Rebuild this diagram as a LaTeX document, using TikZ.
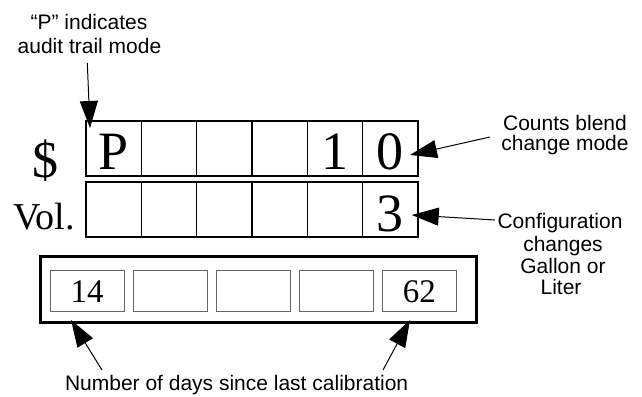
\documentclass[tikz,border=0pt]{standalone}
\usepackage{fontspec}
\setmainfont{Liberation Serif}
\newfontfamily\labelfont{Liberation Sans}
\usetikzlibrary{arrows.meta}
\begin{document}
\begin{tikzpicture}[x=1pt,y=-1pt,
  cellbox/.style={draw, line width=1.5pt, minimum width=55.33pt, minimum height=55pt, inner sep=0pt},
  daybox/.style={draw=black!60, line width=0.8pt, minimum width=74pt, minimum height=40.3pt, inner sep=0pt},
  framebox/.style={draw, line width=3pt, minimum width=436pt, minimum height=66pt, inner sep=0pt},
  bigdigit/.style={anchor=base, inner sep=0pt, font=\fontsize{54}{60}\selectfont},
  daydigit/.style={anchor=base, inner sep=0pt, font=\fontsize{33}{38}\selectfont},
  rowlabel/.style={anchor=base, inner sep=0pt},
  lbl/.style={anchor=base, inner sep=0pt, font=\labelfont\fontsize{21}{24}\selectfont},
  callout/.style={line width=1pt, -{Triangle[length=27pt,width=18pt]}},
]
\useasboundingbox (0,0) rectangle (642,396);

% row labels
\node[rowlabel, font=\fontsize{52}{58}\selectfont] (dollar) at (45,177) {\$};
\node[rowlabel, font=\fontsize{38}{44}\selectfont] (vol) at (44,229) {Vol.};

% top two rows of cells
\foreach \i/\x in {1/113.667,2/169.0,3/224.333,4/279.667,5/335.0,6/390.333}{
  \node[cellbox] (t\i) at (\x,148.5) {};
  \node[cellbox] (v\i) at (\x,209.35) {};
}
\node[bigdigit] (dP) at (113.667,169.3) {P};
\node[bigdigit] (d1) at (335.0,169.3) {1};
\node[bigdigit] (d0) at (390.333,169.3) {0};
\node[bigdigit] (d3) at (390.333,231.2) {3};

% bottom frame with day cells
\node[framebox] (frame) at (258,289) {};
\foreach \i/\x in {1/87.0,2/170.1,3/253.2,4/336.3,5/419.4}{
  \node[daybox] (b\i) at (\x,290.85) {};
}
\node[daydigit] (n14) at (87.0,302) {14};
\node[daydigit] (n62) at (419.4,302) {62};

% callout texts
\node[lbl] (pA) at (89,29.3) {“P” indicates};
\node[lbl] (pB) at (89.5,53.3) {audit trail mode};
\node[lbl] (cA) at (565,130.7) {Counts blend};
\node[lbl] (cB) at (565,150.5) {change mode};
\node[lbl] (gA) at (560,228.5) {Configuration};
\node[lbl] (gB) at (563,251) {changes};
\node[lbl] (gC) at (563,273) {Gallon or};
\node[lbl] (gD) at (561,294) {Liter};
\node[lbl] (days) at (236.6,390) {Number of days since last calibration};

% connector ends
\coordinate (pTail) at (87.3,63);
\coordinate (pTip) at (90,128);
\coordinate (cTail) at (490,137);
\coordinate (cTip) at (410,155);
\coordinate (gTail) at (495,220);
\coordinate (gTip) at (411.7,215);
\coordinate (lTail) at (102,370);
\coordinate (lTip) at (71,320);
\coordinate (rTail) at (383,370);
\coordinate (rTip) at (410,320);

\draw[callout] (pTail) -- (pTip);
\draw[callout] (cTail) -- (cTip);
\draw[callout] (gTail) -- (gTip);
\draw[callout] (lTail) -- (lTip);
\draw[callout] (rTail) -- (rTip);
\end{tikzpicture}
\end{document}
